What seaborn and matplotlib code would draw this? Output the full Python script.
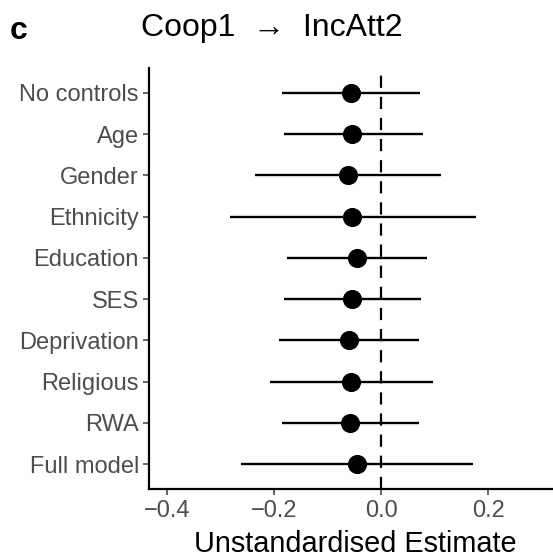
import numpy as np
import pandas as pd
import matplotlib
matplotlib.use("Agg")
import matplotlib.pyplot as plt
import seaborn as sns

categories = ["No controls", "Age", "Gender", "Ethnicity", "Education", "SES",
              "Deprivation", "Religious", "RWA", "Full model"]
estimate = [-0.057, -0.054, -0.062, -0.054, -0.046, -0.054, -0.060, -0.056, -0.058, -0.045]
ci_low = [-0.185, -0.182, -0.236, -0.283, -0.177, -0.183, -0.191, -0.209, -0.186, -0.262]
ci_high = [0.072, 0.077, 0.112, 0.177, 0.085, 0.074, 0.071, 0.097, 0.071, 0.171]
xticks = [-0.4, -0.2, 0.0, 0.2]
xtick_labels = ["\u22120.4", "\u22120.2", "0.0", "0.2"]

df = pd.DataFrame({"model": categories, "est": estimate, "lo": ci_low, "hi": ci_high})
df["pos"] = np.arange(len(df))

sns.set_theme(style="ticks")
plt.rcParams["font.family"] = ["Liberation Sans", "DejaVu Sans"]

fig = plt.figure(figsize=(5.53, 5.57), dpi=100)
ax = fig.add_axes([0.270, 0.122, 0.730, 0.756])

ax.axvline(0, color="black", lw=1.6, dashes=(5.5, 4.0), zorder=1)
ax.hlines(df["pos"], df["lo"], df["hi"], color="black", lw=1.7, zorder=2)
sns.scatterplot(data=df, x="est", y="pos", ax=ax, s=190, color="black",
                edgecolor="black", linewidth=0, zorder=3, legend=False)

ax.set_xlim(-0.434, 0.321)
ax.set_ylim(len(df) - 1 + 0.6, -0.6)
ax.set_yticks(df["pos"])
ax.set_yticklabels(categories)
ax.set_xticks(xticks)
ax.set_xticklabels(xtick_labels)

for s in ["top", "right"]:
    ax.spines[s].set_visible(False)
for s in ["left", "bottom"]:
    ax.spines[s].set_linewidth(1.6)
    ax.spines[s].set_color("black")
ax.tick_params(axis="both", colors="#4D4D4D", labelsize=17, length=4.5, width=1.2, pad=3)
ax.tick_params(axis="x", pad=3.5)

ax.set_ylabel("")
ax.set_xlabel("Unstandardised Estimate", fontsize=20.8, color="black", labelpad=6)
ax.xaxis.label.set_x(0.51)

fig.text(0.492, 0.949, "Coop1  \u2192  IncAtt2", fontsize=23, ha="center", va="center", color="black")
fig.text(0.018, 0.945, "c", fontsize=23, fontweight="bold", ha="left", va="center", color="black")

fig.savefig("out.png", dpi=100)
